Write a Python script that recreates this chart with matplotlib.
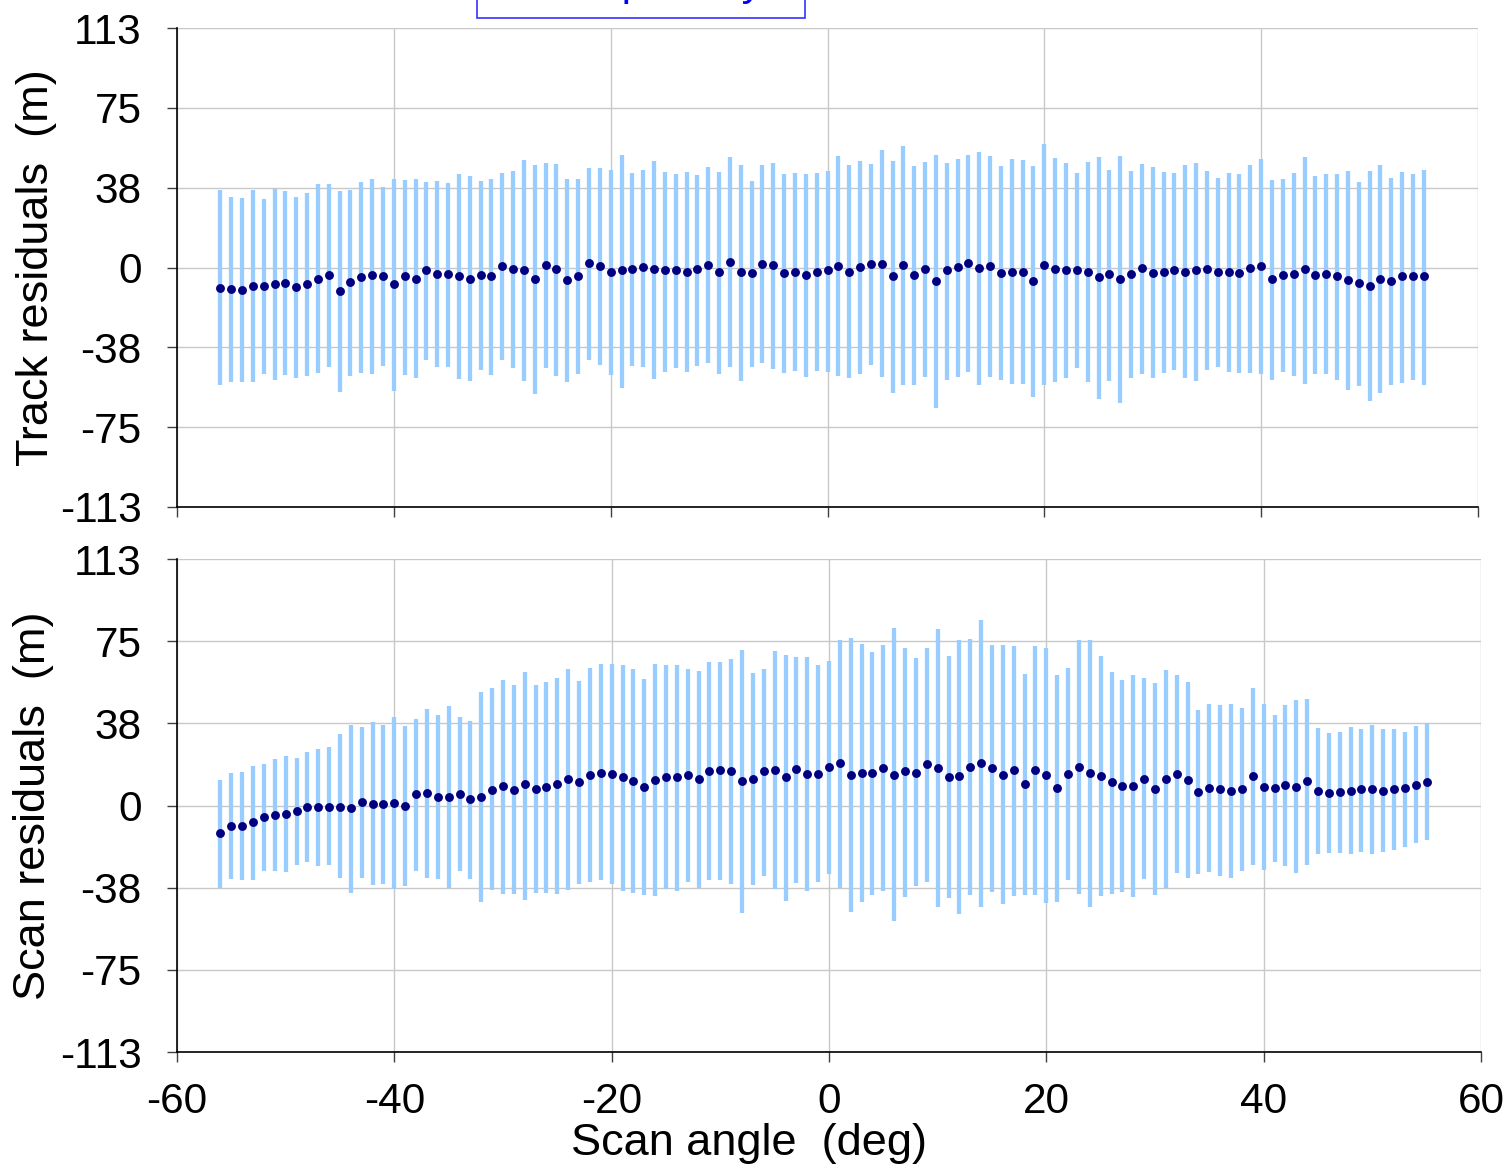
import matplotlib
matplotlib.use("Agg")
import matplotlib.pyplot as plt
from matplotlib.patches import Rectangle

plt.rcParams['font.family'] = ['Liberation Sans', 'DejaVu Sans']

scan_angle = [-56, -55, -54, -53, -52, -51, -50, -49, -48, -47, -46, -45, -44, -43, -42, -41,
              -40, -39, -38, -37, -36, -35, -34, -33, -32, -31, -30, -29, -28, -27, -26, -25,
              -24, -23, -22, -21, -20, -19, -18, -17, -16, -15, -14, -13, -12, -11, -10, -9,
              -8, -7, -6, -5, -4, -3, -2, -1, 0, 1, 2, 3, 4, 5, 6, 7, 8, 9, 10, 11, 12, 13, 14,
              15, 16, 17, 18, 19, 20, 21, 22, 23, 24, 25, 26, 27, 28, 29, 30, 31, 32, 33, 34,
              35, 36, 37, 38, 39, 40, 41, 42, 43, 44, 45, 46, 47, 48, 49, 50, 51, 52, 53, 54, 55]

track_mean = [-9.6, -10.0, -10.7, -8.5, -8.9, -7.8, -7.4, -9.4, -7.8, -5.2, -3.6, -11.1, -6.9, -4.7, -3.6, -4.2,
              -7.8, -4.2, -5.2, -1.3, -3.0, -3.0, -4.1, -5.2, -3.6, -4.1, 0.6, -0.8, -1.3, -5.2, 1.3, -0.9,
              -5.8, -4.1, 1.9, 0.8, -2.0, -1.4, -0.8, 0.2, -0.8, -1.4, -1.4, -2.0, -0.8, 1.3, -2.0, 2.8,
              -2.0, -2.5, 1.7, 1.3, -2.5, -2.0, -3.6, -2.0, -1.4, 0.6, -2.0, 0.2, 1.7, 1.7, -4.1, 1.3,
              -3.6, -0.9, -6.3, -1.4, 0.2, 2.2, -0.3, 0.6, -2.5, -2.0, -2.0, -6.3, 1.3, -0.9, -1.4, -1.4,
              -2.0, -4.6, -3.0, -5.2, -3.0, -0.3, -2.5, -2.0, -1.4, -2.0, -1.4, -0.9, -2.0, -2.0, -2.5, -0.3,
              0.6, -5.2, -3.6, -3.0, -0.9, -3.6, -3.0, -4.1, -5.8, -7.4, -8.5, -5.2, -6.3, -4.1, -4.1, -4.1]
track_high = [36.6, 33.4, 32.8, 36.6, 32.2, 37.0, 35.9, 33.4, 35.3, 39.2, 39.2, 35.9, 36.6, 40.3, 41.9, 38.1,
              41.9, 41.4, 41.9, 40.3, 40.8, 39.7, 44.1, 43.0, 40.8, 41.9, 44.6, 45.7, 50.5, 48.4, 49.5, 49.0,
              41.9, 41.9, 46.8, 46.8, 46.2, 53.2, 44.6, 46.2, 50.4, 45.1, 44.1, 45.1, 43.5, 47.3, 45.1, 52.1,
              48.4, 40.8, 48.4, 49.3, 44.1, 44.6, 44.1, 44.6, 45.5, 52.7, 48.4, 50.4, 48.8, 55.4, 50.4, 57.5,
              47.9, 49.9, 53.2, 49.5, 51.0, 53.2, 54.3, 52.7, 47.9, 51.0, 50.5, 47.9, 58.1, 51.6, 49.5, 44.6,
              49.9, 52.1, 46.2, 52.7, 45.7, 49.0, 47.3, 45.1, 44.6, 48.4, 49.5, 45.7, 42.4, 44.6, 44.1, 48.4,
              51.0, 41.3, 41.9, 44.6, 52.1, 43.0, 44.1, 44.1, 45.7, 40.2, 45.7, 48.4, 42.4, 45.1, 44.1, 46.2]
track_low = [-55.6, -54.0, -54.0, -54.0, -50.2, -52.9, -50.7, -52.3, -51.2, -49.6, -46.9, -58.7, -51.2, -49.6, -50.2, -46.5,
             -58.2, -50.7, -52.3, -43.6, -46.9, -46.9, -52.4, -53.4, -48.5, -50.7, -43.6, -47.6, -53.4, -59.5, -47.6, -51.2,
             -54.0, -50.2, -43.6, -45.8, -50.7, -56.7, -46.5, -47.1, -52.7, -49.1, -47.6, -49.1, -46.5, -44.9, -50.2, -47.1,
             -53.4, -47.1, -44.9, -48.0, -49.6, -48.7, -51.8, -48.7, -49.1, -51.2, -52.3, -50.2, -46.0, -51.8, -59.2, -55.6,
             -55.6, -51.8, -66.2, -52.9, -51.8, -49.1, -55.6, -51.8, -52.9, -54.9, -54.9, -60.9, -55.6, -54.0, -52.3, -47.4,
             -54.0, -62.0, -53.4, -63.7, -52.3, -50.2, -52.3, -49.6, -48.5, -52.3, -53.4, -48.5, -46.9, -49.1, -49.6, -49.6,
             -50.2, -52.9, -49.1, -51.2, -54.9, -50.2, -50.2, -52.9, -57.8, -56.0, -63.1, -59.3, -55.6, -54.5, -52.9, -55.6]

scan_mean = [-12.6, -9.4, -9.4, -7.7, -5.4, -4.3, -3.7, -2.6, -0.5, -0.5, -0.5, -0.5, -1.1, 1.7, 0.6, 0.6,
             1.1, 0.0, 5.1, 5.7, 3.8, 3.8, 5.1, 2.8, 3.8, 7.2, 9.1, 7.2, 9.7, 7.7, 8.3, 9.7,
             12.1, 10.6, 14.0, 15.1, 14.6, 12.9, 11.2, 8.5, 11.8, 12.9, 12.9, 14.0, 12.3, 15.7, 16.1, 15.7,
             11.2, 12.3, 15.7, 16.1, 12.9, 16.8, 14.6, 14.6, 17.8, 19.5, 14.0, 15.1, 15.1, 17.2, 14.0, 15.7,
             15.1, 18.9, 17.2, 12.9, 13.5, 17.8, 19.5, 17.2, 14.0, 16.1, 9.7, 16.1, 14.0, 7.8, 14.6, 17.8,
             15.1, 13.5, 10.6, 9.1, 9.1, 12.3, 7.4, 12.3, 14.6, 11.8, 6.3, 7.8, 7.4, 6.8, 7.4, 13.5,
             8.5, 7.8, 9.5, 8.5, 11.2, 6.8, 5.7, 6.3, 6.8, 7.4, 7.4, 6.8, 7.4, 7.8, 9.5, 10.6]
scan_high = [11.5, 14.9, 15.5, 18.3, 18.9, 21.1, 22.8, 21.7, 24.4, 26.0, 26.6, 32.6, 36.9, 36.0, 38.1, 36.9,
             40.4, 36.4, 39.8, 44.3, 41.5, 45.8, 40.4, 38.7, 52.1, 53.7, 57.5, 55.3, 61.3, 55.3, 56.4, 58.6,
             62.4, 57.0, 63.0, 64.7, 64.7, 64.3, 62.6, 58.1, 64.7, 64.3, 64.3, 62.6, 61.5, 65.9, 65.9, 67.0,
             71.3, 60.9, 62.6, 70.9, 69.2, 68.1, 68.1, 64.3, 66.4, 75.9, 76.9, 74.1, 70.3, 73.6, 81.3, 72.4,
             67.5, 72.4, 80.7, 68.6, 75.8, 76.2, 85.2, 73.6, 73.6, 73.0, 60.3, 73.0, 72.4, 59.8, 63.0, 75.9,
             75.9, 68.6, 61.3, 57.5, 59.8, 58.6, 56.0, 62.0, 59.8, 56.4, 43.8, 46.6, 46.0, 46.6, 44.9, 53.8,
             46.6, 41.5, 46.0, 48.3, 48.7, 35.5, 33.2, 33.8, 36.0, 34.9, 37.0, 34.9, 34.9, 33.8, 36.6, 37.7]
scan_low = [-37.7, -33.8, -34.3, -34.3, -30.0, -30.0, -30.6, -27.2, -26.1, -27.7, -27.2, -33.2, -40.0, -33.2, -36.6, -36.0,
            -38.1, -37.0, -30.0, -33.2, -33.8, -37.7, -30.0, -33.8, -44.3, -38.7, -40.4, -40.4, -43.2, -40.0, -40.0, -40.4,
            -38.7, -36.0, -34.9, -34.3, -36.0, -39.2, -40.3, -41.0, -41.4, -38.1, -39.2, -34.9, -37.7, -34.3, -34.3, -36.0,
            -49.2, -36.6, -32.1, -38.1, -43.7, -35.4, -39.2, -34.9, -31.5, -37.7, -48.6, -44.3, -41.0, -39.2, -53.0, -42.0,
            -37.0, -34.9, -46.4, -42.6, -49.7, -41.0, -46.4, -39.8, -45.3, -41.4, -41.0, -41.0, -44.7, -44.3, -34.3, -40.4,
            -46.4, -41.5, -40.4, -39.8, -42.0, -33.8, -41.0, -37.7, -31.1, -33.2, -31.5, -30.4, -32.1, -33.2, -30.0, -27.2,
            -29.4, -26.1, -27.7, -31.1, -27.2, -22.3, -21.7, -21.7, -22.3, -21.1, -22.3, -21.1, -20.6, -18.9, -17.2, -15.7]

y_tick_values = [-113, -113 * 2 / 3, -113 / 3, 0, 113 / 3, 113 * 2 / 3, 113]
y_tick_labels = ["-113", "-75", "-38", "0", "38", "75", "113"]
x_tick_values = [-60, -40, -20, 0, 20, 40, 60]
x_tick_labels = ["-60", "-40", "-20", "0", "20", "40", "60"]
panel_labels = ["Track residuals  (m)", "Scan residuals  (m)"]
x_label = "Scan angle  (deg)"
box_text = "GCP primary"

W, H = 1510, 1170
fig = plt.figure(figsize=(W / 100, H / 100), dpi=100)
fig.patch.set_facecolor("white")

ax_top = fig.add_axes([177 / W, 1 - 507 / H, 1301 / W, 479 / H])
ax_bot = fig.add_axes([177 / W, 1 - 1052 / H, 1304 / W, 493 / H])

bar_color = "#99CCFF"
dot_color = "#000080"
grid_color = "#C8C8C8"

label_x_px = [57, 54]
for i, (ax, mean, hi, lo, lab) in enumerate([(ax_top, track_mean, track_high, track_low, panel_labels[0]),
                                             (ax_bot, scan_mean, scan_high, scan_low, panel_labels[1])]):
    ax.vlines(scan_angle, lo, hi, colors=bar_color, linewidth=3.1, zorder=2)
    ax.plot(scan_angle, mean, linestyle="none", marker="o", markersize=6.4,
            color=dot_color, markeredgewidth=0, zorder=3)
    ax.set_xlim(-60, 60)
    ax.set_ylim(-113, 113)
    ax.set_yticks(y_tick_values)
    ax.set_yticklabels(y_tick_labels)
    ax.set_xticks(x_tick_values)
    ax.grid(True, color=grid_color, linewidth=1.0, zorder=0)
    ax.set_axisbelow(True)
    for s in ["top", "right"]:
        ax.spines[s].set_visible(False)
    for s in ["left", "bottom"]:
        ax.spines[s].set_color("black")
        ax.spines[s].set_linewidth(1.2)
    ax.tick_params(axis="both", direction="out", length=7.5, width=1.0,
                   color="#404040", labelsize=30.5, labelcolor="black")
    ax.tick_params(axis="y", pad=18)
    ax.tick_params(axis="x", pad=14)
    ax.set_ylabel(lab, fontsize=32.5)
    bbox = ax.get_position()
    ax_w_px = bbox.width * W
    ax.yaxis.set_label_coords((label_x_px[i] - 177) / ax_w_px, 0.5)

ax_top.tick_params(axis="x", labelbottom=False)
ax_bot.set_xticklabels(x_tick_labels)
fig.text(749 / W, 1 - 1144 / H, x_label, fontsize=32.5, ha="center", va="center")

# Partially visible annotation box at the top of the figure
rect = Rectangle((477 / W, 1 - 18 / H), (805 - 477) / W, 0.1, transform=fig.transFigure,
                 facecolor="white", edgecolor="#3333FF", linewidth=1.2, clip_on=False)
fig.patches.append(rect)
fig.text(641 / W, 1 + 5 / H, box_text, color="#0000FF", fontsize=30.5,
         ha="center", va="baseline")

fig.savefig("out.png", dpi=100)
